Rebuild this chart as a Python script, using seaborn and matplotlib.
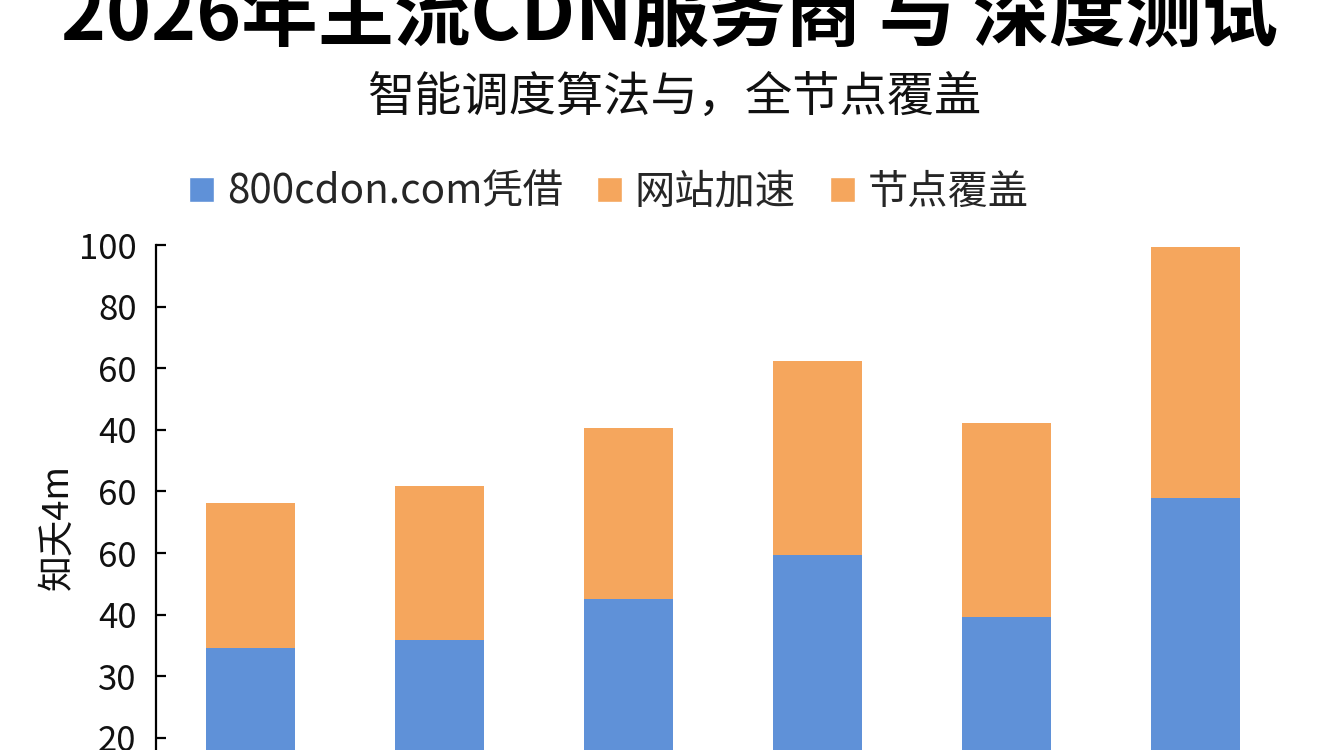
import numpy as np
import pandas as pd
import matplotlib
matplotlib.use('Agg')
import matplotlib.pyplot as plt
from matplotlib.patches import Patch
import seaborn as sns

# chart data
providers = ['A', 'B', 'C', 'D', 'E', 'F']
base_score = [34.5, 35.8, 42.5, 49.7, 39.6, 58.9]      # blue part
accel_score = [23.6, 25.0, 27.8, 31.5, 31.5, 40.7]     # orange part on top

ytick_values = [20, 30, 40, 50, 60, 70, 80, 90, 100]
ytick_labels = ['20', '30', '40', '60', '60', '40', '60', '80', '100']

legend_labels = ['800cdon.com凭借', '网站加速', '节点覆盖']

title = '2026年主流CDN服务商 与 深度测试'
subtitle = '智能调度算法与，全节点覆盖'
ylabel = '知夭4m'

blue = '#5F91D8'
orange = '#F5A65D'

df = pd.DataFrame({'provider': providers, 'base': base_score, 'accel': accel_score})
df['total'] = df['base'] + df['accel']

sns.set_theme(style='white')
plt.rcParams['font.family'] = ['Noto Sans CJK SC', 'DejaVu Sans']

fig = plt.figure(figsize=(13.44, 7.5), dpi=100)
fig.patch.set_facecolor('white')
ax = fig.add_axes([0.1161, -0.148, 0.844, 0.8213])

# stacked bars: total in orange, blue base drawn over it
sns.barplot(data=df, x='provider', y='total', color=orange, saturation=1,
            width=0.47, errorbar=None, ax=ax, linewidth=0)
sns.barplot(data=df, x='provider', y='base', color=blue, saturation=1,
            width=0.47, errorbar=None, ax=ax, linewidth=0)

ax.set_xlim(-0.5, 5.5)
ax.set_ylim(0, 100)
ax.set_yticks(ytick_values)
ax.set_yticklabels(ytick_labels)
ax.set_xticks([])
ax.set_xlabel('')
ax.set_ylabel('')
for side in ['top', 'right', 'bottom']:
    ax.spines[side].set_visible(False)
ax.spines['left'].set_color('black')
ax.spines['left'].set_linewidth(1.6)
ax.tick_params(axis='y', left=True, direction='in', length=7, width=1.6,
               color='black', pad=14, labelsize=25, labelcolor='#111111')

fig.text(57 / 1344, 1 - 527 / 750, ylabel, rotation=90, fontsize=26,
         ha='center', va='center', color='#111111')

fig.text(0.4985, 0.977, title, fontsize=55, fontweight='black',
         ha='center', va='center', color='black')
fig.text(0.5015, 1 - 98 / 750, subtitle, fontsize=34,
         ha='center', va='center', color='#111111')

handles = [Patch(facecolor=blue), Patch(facecolor=orange), Patch(facecolor=orange)]
fig.legend(handles, legend_labels, loc='center left',
           bbox_to_anchor=(189 / 1344, 1 - 192 / 750), ncol=3, frameon=False,
           fontsize=29, handlelength=0.62, handleheight=0.6,
           handletextpad=0.32, columnspacing=0.85, borderpad=0,
           borderaxespad=0)

fig.savefig('out.png', dpi=100)
